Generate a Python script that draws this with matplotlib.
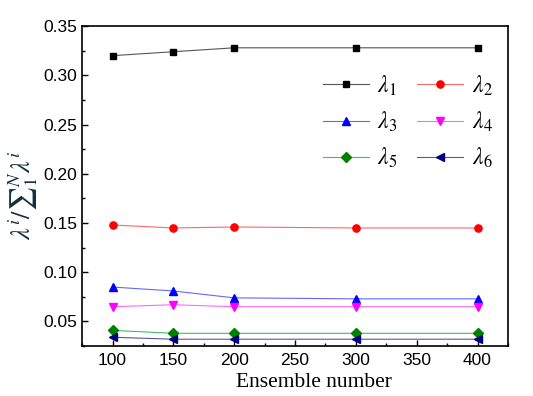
import matplotlib
matplotlib.use("Agg")
import matplotlib.pyplot as plt
from matplotlib.ticker import MultipleLocator

plt.rcParams['mathtext.fontset'] = 'stix'
plt.rcParams['font.family'] = ['Liberation Sans', 'DejaVu Sans']

ensemble = [100, 150, 200, 300, 400]
lam1 = [0.320, 0.324, 0.328, 0.328, 0.328]
lam2 = [0.148, 0.145, 0.146, 0.145, 0.145]
lam3 = [0.085, 0.081, 0.074, 0.073, 0.073]
lam4 = [0.065, 0.067, 0.065, 0.065, 0.065]
lam5 = [0.041, 0.038, 0.038, 0.038, 0.038]
lam6 = [0.034, 0.032, 0.032, 0.032, 0.032]
labels = [r'$\lambda_1$', r'$\lambda_2$', r'$\lambda_3$', r'$\lambda_4$', r'$\lambda_5$', r'$\lambda_6$']

fig = plt.figure(figsize=(5.33, 3.96), dpi=100)
ax = fig.add_axes([0.154, 0.126, 0.799, 0.808])

series = [lam1, lam2, lam3, lam4, lam5, lam6]
mcolors = ['#000000', '#ff0000', '#0000ff', '#ff00ff', '#008000', '#000080']
lcolors = ['#555555', '#ff6666', '#6666ff', '#ff66ff', '#44bb66', '#5555aa']
markers = ['s', 'o', '^', 'v', 'D', '<']
msizes = [4.8, 5.2, 5.5, 5.5, 4.8, 5.5]
handles = []
for y, mc, lc, m, ms, lab in zip(series, mcolors, lcolors, markers, msizes, labels):
    h, = ax.plot(ensemble, y, color=lc, lw=0.8, marker=m, ms=ms, mfc=mc, mec=mc, label=lab)
    handles.append(h)

ax.set_xlim(75, 425)
ax.set_ylim(0.025, 0.35)
ax.xaxis.set_major_locator(MultipleLocator(50))
ax.xaxis.set_minor_locator(MultipleLocator(25))
ax.yaxis.set_minor_locator(MultipleLocator(0.025))
ax.set_yticks([0.05, 0.10, 0.15, 0.20, 0.25, 0.30, 0.35])
ax.set_yticklabels(['0.05', '0.10', '0.15', '0.20', '0.25', '0.30', '0.35'])
ax.tick_params(which='both', direction='in', top=False, right=False, labelsize=12.5)
ax.tick_params(which='major', length=4, width=1)
ax.tick_params(which='minor', length=2.5, width=1)
ax.tick_params(axis='x', pad=5)
for s in ax.spines.values():
    s.set_linewidth(1.2)

ax.set_xlabel('Ensemble number', family='Liberation Serif', fontsize=15.5, va='top')
ax.xaxis.set_label_coords(0.545, -0.085)
fig.text(0.043, 0.507, r'$\lambda^i/{\sum}_1^N\lambda^i$', fontsize=19, color='#103040',
         rotation=90, ha='center', va='center')

# row-wise order for 2-column legend
order = [0, 2, 4, 1, 3, 5]
leg = ax.legend([handles[i] for i in order], [labels[i] for i in order],
                ncol=2, frameon=False, loc='upper left', bbox_to_anchor=(0.526, 0.903),
                fontsize=17, handlelength=1.95, columnspacing=0.85, labelspacing=0.5,
                handletextpad=0.35, borderpad=0.2)

fig.savefig('out.png', dpi=100)
